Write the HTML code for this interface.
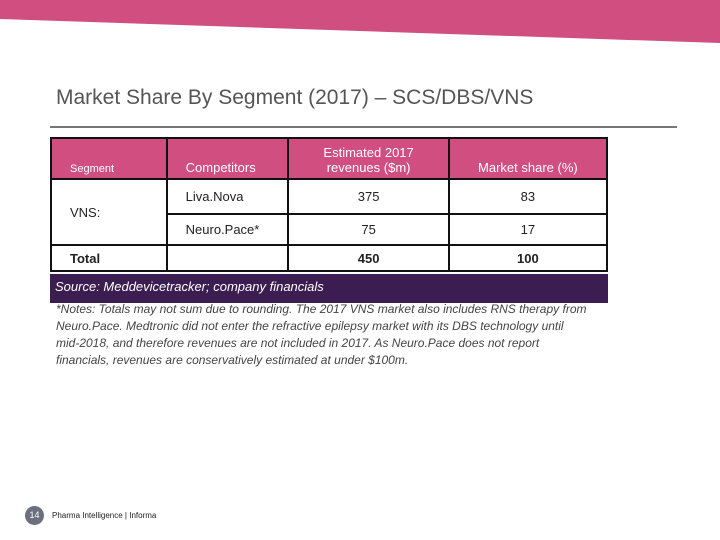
<!DOCTYPE html>
<html><head><meta charset="utf-8"><style>
body{margin:0;width:720px;height:540px;position:relative;background:#fff;font-family:"Liberation Sans",sans-serif;overflow:hidden}
.abs{position:absolute}
table{border-collapse:collapse;position:absolute;left:50px;top:137px;width:558px;font-size:13px;color:#222}
td{border:2px solid #111;padding:0;text-align:center}
.hd td{background:#d04e80;color:#fff;height:36px;vertical-align:bottom;padding-bottom:3px}
</style></head><body>
<svg class="abs" style="left:0;top:0" width="720" height="60"><polygon points="0,0 720,0 720,43 0,19" fill="#d04e80"/></svg>
<div class="abs" style="left:56px;top:86px;font-size:21px;color:#555">Market Share By Segment (2017) – SCS/DBS/VNS</div>
<div class="abs" style="left:50px;top:126px;width:627px;height:2px;background:#777"></div>
<table>
<colgroup><col style="width:116px"><col style="width:122px"><col style="width:161px"><col style="width:159px"></colgroup>
<tr class="hd"><td style="text-align:left;padding-left:18px;font-size:11px">Segment</td><td style="text-align:left;padding-left:18px">Competitors</td><td>Estimated 2017<br>revenues ($m)</td><td>Market share (%)</td></tr>
<tr style="height:35px"><td rowspan="2" style="text-align:left;padding-left:18px">VNS:</td><td style="text-align:left;padding-left:18px">Liva.Nova</td><td>375</td><td>83</td></tr>
<tr style="height:31px"><td style="text-align:left;padding-left:18px">Neuro.Pace*</td><td>75</td><td>17</td></tr>
<tr style="height:26px;font-weight:bold"><td style="text-align:left;padding-left:18px">Total</td><td></td><td>450</td><td>100</td></tr>
</table>
<div class="abs" style="left:50px;top:274px;width:558px;height:29px;background:#3b1d52;color:#fff;font-style:italic;font-size:13px;line-height:26px;box-sizing:border-box;padding-left:5px">Source: Meddevicetracker; company financials</div>
<div class="abs" style="left:56px;top:301px;width:532px;font-style:italic;font-size:12px;line-height:17px;color:#444">*Notes: Totals may not sum due to rounding. The 2017 VNS market also includes RNS therapy from Neuro.Pace. Medtronic did not enter the refractive epilepsy market with its DBS technology until mid-2018, and therefore revenues are not included in 2017. As Neuro.Pace does not report financials, revenues are conservatively estimated at under $100m.</div>
<div class="abs" style="left:25px;top:506px;width:19px;height:19px;border-radius:50%;background:#6b6f80;color:#fff;font-size:9px;line-height:19px;text-align:center">14</div>
<div class="abs" style="left:52px;top:511px;font-size:8px;color:#222">Pharma Intelligence | Informa</div>
</body></html>
